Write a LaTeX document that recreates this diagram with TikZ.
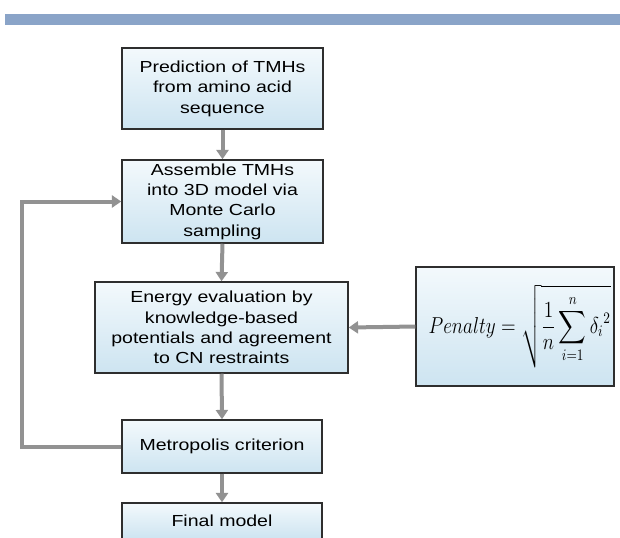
\documentclass[tikz,border=0pt]{standalone}
\usepackage{amsmath}
\usepackage{graphicx}
\usepackage{fontspec}
\setmainfont{Liberation Sans}
\newfontfamily\boxfont[FakeStretch=1.22]{Liberation Sans}
\usetikzlibrary{arrows.meta}
\definecolor{barblue}{HTML}{8AA4C8}
\definecolor{arrowgray}{HTML}{929292}
\definecolor{boxtop}{HTML}{F3F9FC}
\definecolor{boxbot}{HTML}{CDE4F1}
\definecolor{boxline}{HTML}{2E2E2E}
\tikzset{
  stepbox/.style={draw=boxline, line width=1.1pt, top color=boxtop, bottom color=boxbot,
    align=center, inner sep=0pt, font=\boxfont\fontsize{12}{15.3}\selectfont},
  flow/.style={draw=arrowgray, line width=3pt, -{Triangle[width=9pt,length=7pt]}},
}
\begin{document}
\begin{tikzpicture}[x=0.75pt,y=-0.75pt]
\useasboundingbox (0,0) rectangle (620,537);
\begin{scope}
\clip (0,0) rectangle (620,537);
\fill[barblue] (5,14) rectangle (620,25);
\node[stepbox, minimum width=201*0.75pt, minimum height=81*0.75pt] (pred) at (222.5,88.5)
  {Prediction of TMHs\\from amino acid\\sequence};
\node[stepbox, minimum width=201*0.75pt, minimum height=83*0.75pt] (asm) at (222.5,201.5)
  {Assemble TMHs\\into 3D model via\\Monte Carlo\\sampling};
\node[stepbox, minimum width=253*0.75pt, minimum height=91*0.75pt] (energy) at (221.5,327.5)
  {Energy evaluation by\\knowledge-based\\potentials and agreement\\to CN restraints};
\node[stepbox, minimum width=200*0.75pt, minimum height=53*0.75pt] (metro) at (222,446.5)
  {Metropolis criterion};
\node[stepbox, minimum width=200*0.75pt, minimum height=36*0.75pt] (final) at (222,521)
  {Final model};
\node[stepbox, minimum width=198*0.75pt, minimum height=119*0.75pt,
  font=\fontsize{14.5}{17}\selectfont] (pen) at (515,326.5)
  {\hspace*{7pt}\scalebox{1}[1.2]{$\displaystyle Penalty = \sqrt{\frac{1}{n}\sum_{i=1}^{n}{\delta_i}^{2}}$}};
\coordinate (loopb) at (22,446.5);
\coordinate (loopt) at (22,201.5);
\draw[flow] (pred.south) -- (asm.north);
\draw[flow] (asm.south) -- (energy.north);
\draw[flow] (energy.south) -- (metro.north);
\draw[flow] (metro.south) -- (final.north);
\draw[flow] (pen.west) -- (energy.east);
\draw[flow] (metro.west) -- (loopb) -- (loopt) -- (asm.west);
\end{scope}
\end{tikzpicture}
\end{document}
